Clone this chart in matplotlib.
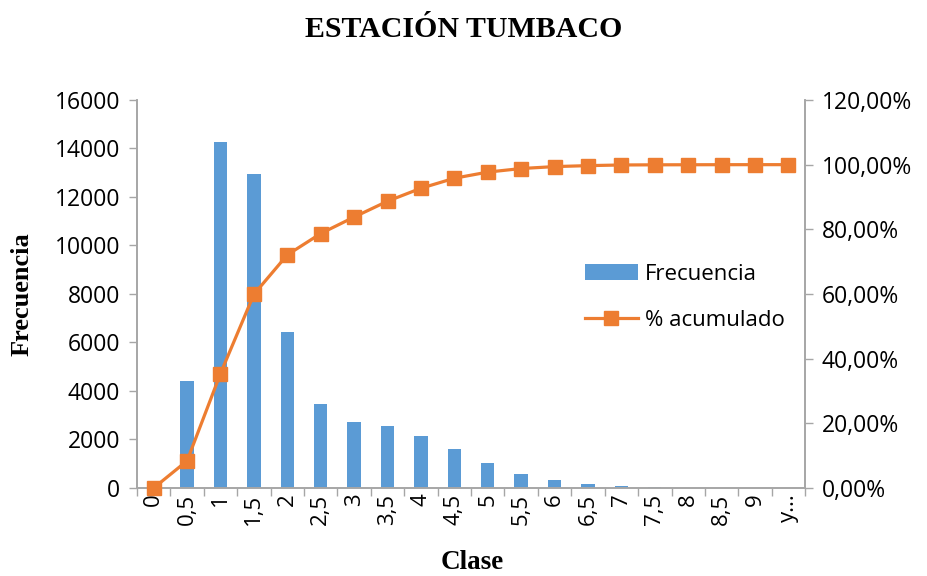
import numpy as np
import matplotlib.pyplot as plt
from matplotlib.ticker import FuncFormatter

# Clases del histograma (velocidad) y frecuencias observadas
clases = ["0", "0,5", "1", "1,5", "2", "2,5", "3", "3,5", "4", "4,5",
          "5", "5,5", "6", "6,5", "7", "7,5", "8", "8,5", "9", "y..."]
frecuencia = [0, 4410, 14270, 12950, 6430, 3460, 2720, 2560, 2140, 1610,
              1030, 580, 330, 165, 80, 30, 10, 5, 3, 2]
acumulado = [0.0, 8.4, 35.4, 59.9, 72.1, 78.7, 83.8, 88.7, 92.7, 95.8,
             97.7, 98.8, 99.4, 99.7, 99.9, 99.95, 99.97, 99.99, 100.0, 100.0]

azul = "#5B9BD5"
naranja = "#ED7D31"
gris = "#A6A6A6"
fuente = ["Open Sans", "DejaVu Sans"]
serif = "Liberation Serif"

plt.rcParams["font.family"] = fuente

fig = plt.figure(figsize=(9.28, 5.76), dpi=100)
ax = fig.add_axes([0.1476, 0.1528, 0.72, 0.6736])
ax2 = ax.twinx()

x = np.arange(len(clases))
barras = ax.bar(x, frecuencia, width=0.4, color=azul, zorder=2, label="Frecuencia")
linea, = ax2.plot(x, acumulado, color=naranja, lw=2.3, marker="s", ms=10,
                  clip_on=False, zorder=3, label="% acumulado")

ax.set_xlim(-0.5, len(clases) - 0.5)
ax.set_ylim(0, 16000)
ax.set_yticks(np.arange(0, 16001, 2000))
ax2.set_ylim(0, 120)
ax2.set_yticks(np.arange(0, 121, 20))
ax2.yaxis.set_major_formatter(FuncFormatter(lambda v, p: f"{v:.2f}%".replace(".", ",")))

# Etiquetas de clase rotadas; marcas en los límites entre clases
ax.set_xticks(x)
ax.set_xticklabels(clases, rotation=90, fontsize=16)
ax.set_xticks(np.arange(-0.5, len(clases), 1.0), minor=True)
ax.tick_params(axis="x", which="major", length=0, pad=4)
ax.tick_params(axis="x", which="minor", length=6, color=gris, width=1)
ax.tick_params(axis="y", labelsize=16.5, length=6, color=gris, width=1, pad=6)
ax2.tick_params(axis="y", labelsize=16.5, length=6, color=gris, width=1, pad=6)

for a in (ax, ax2):
    a.spines["top"].set_visible(False)
    for s in ("left", "right", "bottom"):
        a.spines[s].set_color(gris)
        a.spines[s].set_linewidth(1.2)

fig.text(0.5, 0.948, "ESTACIÓN TUMBACO", ha="center", va="center",
         fontsize=21.5, fontweight="bold", family=serif)
fig.text(0.024, 0.49, "Frecuencia", ha="center", va="center", rotation=90,
         fontsize=19, fontweight="bold", family=serif)
fig.text(0.509, 0.023, "Clase", ha="center", va="center",
         fontsize=19.5, fontweight="bold", family=serif)

ax.legend([barras, linea], ["Frecuencia", "% acumulado"], loc="upper left",
          bbox_to_anchor=(0.64, 0.63), frameon=False, fontsize=16,
          handlelength=2.4, handletextpad=0.3, labelspacing=1.15)

fig.savefig("out.png", dpi=100)
